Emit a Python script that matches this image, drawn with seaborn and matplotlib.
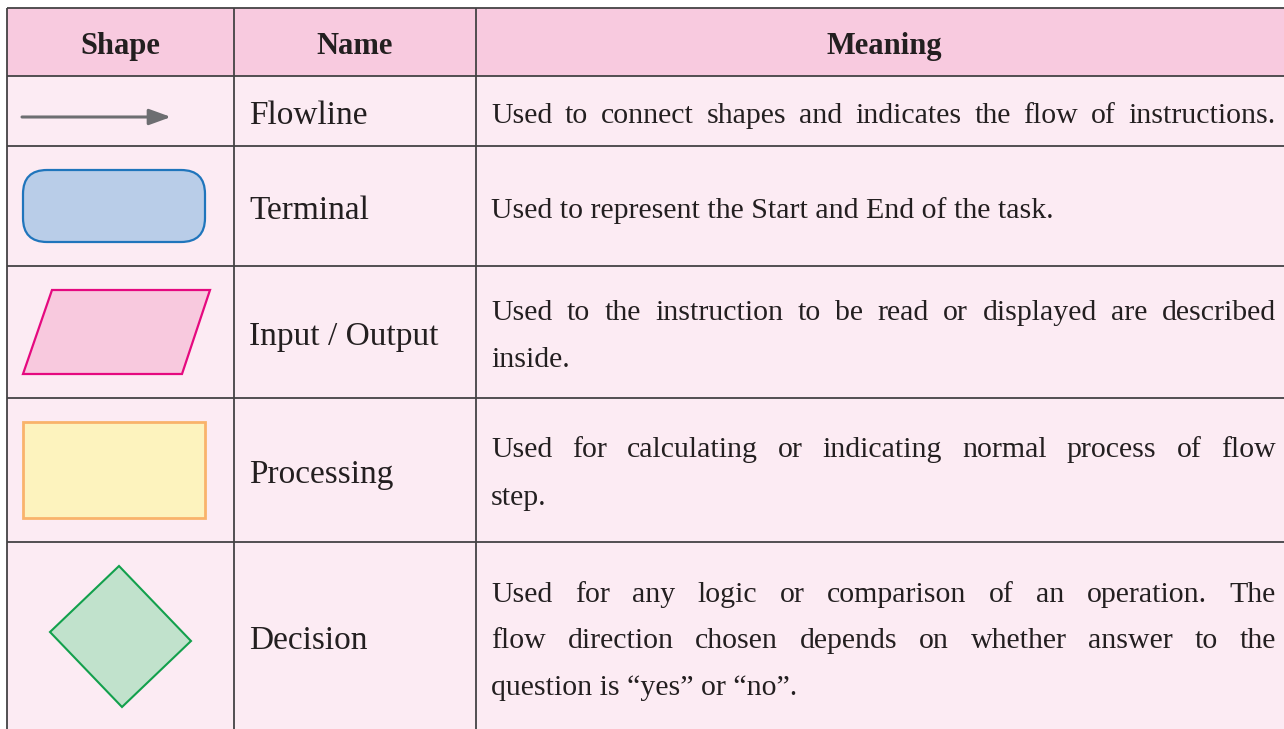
import matplotlib
matplotlib.use("Agg")
import matplotlib.pyplot as plt
import matplotlib.patches as mpatches
import seaborn as sns

# table content
headers = ["Shape", "Name", "Meaning"]
names = ["Flowline", "Terminal", "Input / Output", "Processing", "Decision"]
meanings = [
    ["Used to connect shapes and indicates the flow of instructions."],
    ["Used to represent the Start and End of the task."],
    ["Used to the instruction to be read or displayed are described",
     "inside."],
    ["Used for calculating or indicating normal process of flow",
     "step."],
    ["Used for any logic or comparison of an operation. The",
     "flow direction chosen depends on whether answer to the",
     "question is \u201cyes\u201d or \u201cno\u201d."],
]
# first row is set full width, like the justified lines
justify_last = [True, False, False, False, False]

# layout (pixels)
W, H = 1284, 729
left, top = 7, 7.5
col_edges = [7, 234, 476]
row_edges = [7.5, 75.5, 146, 266, 398, 541.5]
header_base = 54
name_base = [124, 219, 345, 483, 649]
meaning_base = [[123], [218], [320, 367], [457, 505], [602, 648, 695]]
text_x0, text_x1 = 491, 1276

header_bg = "#f8cadf"
body_bg = "#fcebf3"
line_col = "#444244"
ink = "#231f20"
fs = 21.5
fs_name = 24

sns.set_theme(style="white")
plt.rcParams['font.family'] = ['Liberation Serif', 'DejaVu Serif']

fig = plt.figure(figsize=(W / 100, H / 100), dpi=100)
ax = fig.add_axes([0, 0, 1, 1])
ax.set_xlim(0, W)
ax.set_ylim(H, 0)
ax.axis("off")

# backgrounds
ax.add_patch(mpatches.Rectangle((left, top), W - left, row_edges[1] - top,
                                facecolor=header_bg, edgecolor="none"))
ax.add_patch(mpatches.Rectangle((left, row_edges[1]), W - left, H - row_edges[1],
                                facecolor=body_bg, edgecolor="none"))

# grid
ax.hlines(row_edges, left, W, color=line_col, lw=1.3)
ax.vlines(col_edges, top, H, color=line_col, lw=1.3)

# header
hx = [120, 355, 884]
for x, h in zip(hx, headers):
    ax.text(x, header_base, h, ha="center", va="baseline", fontsize=22,
            fontweight="bold", color=ink)

# names
for y, n in zip(name_base, names):
    ax.text(249, y, n, ha="left", va="baseline", fontsize=fs_name, color=ink)

# meanings, justified
fig.canvas.draw()
renderer = fig.canvas.get_renderer()


def draw_line(line, y, justify):
    if not justify:
        ax.text(text_x0, y, line, ha="left", va="baseline", fontsize=fs, color=ink)
        return
    words = line.split(" ")
    texts = [ax.text(0, y, w, ha="left", va="baseline", fontsize=fs, color=ink)
             for w in words]
    widths = [t.get_window_extent(renderer).width for t in texts]
    gap = (text_x1 - text_x0 - sum(widths)) / (len(words) - 1)
    x = text_x0
    for t, w in zip(texts, widths):
        t.set_x(x)
        x += w + gap


for i, lines in enumerate(meanings):
    for j, (line, y) in enumerate(zip(lines, meaning_base[i])):
        last = j == len(lines) - 1
        draw_line(line, y, (not last) or justify_last[i])

# shapes
ax.annotate("", xy=(171, 117), xytext=(22, 117),
            arrowprops=dict(arrowstyle="-|>,head_length=0.55,head_width=0.2",
                            color="#6d6e71", lw=2.2, mutation_scale=24,
                            shrinkA=0, shrinkB=0))

ax.add_patch(mpatches.FancyBboxPatch((23, 170), 182, 72,
                                     boxstyle="round,pad=0,rounding_size=24",
                                     facecolor="#b9cde8", edgecolor="#1f75bc", lw=1.6))

ax.add_patch(mpatches.Polygon([(52, 290), (210, 290), (182, 374), (23, 374)],
                              closed=True, facecolor="#f8c9de", edgecolor="#e5097f", lw=1.6))

ax.add_patch(mpatches.Rectangle((23, 422), 182, 96,
                                facecolor="#fdf3be", edgecolor="#f9b36b", lw=2.0))

ax.add_patch(mpatches.Polygon([(119, 566), (191, 641), (122, 707), (50, 632)],
                              closed=True, facecolor="#c1e2cc", edgecolor="#12a04c", lw=1.5))

fig.savefig("out.png", dpi=100, facecolor="white")
